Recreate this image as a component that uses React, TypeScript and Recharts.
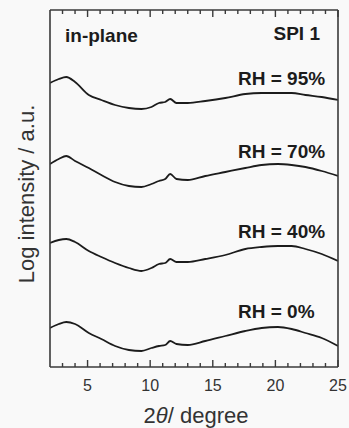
import React from "react";
import { LineChart, Line, XAxis, YAxis } from "recharts";

// 2θ positions (degree) shared by all four scans
const TWO_THETA = [2, 2.7, 3.3, 4, 5.1, 6.1, 7.2, 8.3, 9.3, 10.1, 10.7, 11.2, 11.6, 12.1, 13, 14.4, 16, 17.6, 18.9, 20.2, 21.3, 22.4, 23.7, 25];

// log intensity (a.u., already offset for stacking)
const RH95 = [28.4, 28.8, 29.0, 28.5, 27.2, 26.7, 26.2, 25.9, 25.8, 26.0, 26.4, 26.5, 26.8, 26.4, 26.4, 26.6, 26.9, 27.3, 27.4, 27.4, 27.4, 27.2, 27.0, 26.7];
const RH70 = [20.3, 20.8, 21.1, 20.6, 19.9, 19.2, 18.5, 18.1, 18.0, 18.3, 18.6, 18.8, 19.3, 18.8, 18.7, 19.1, 19.5, 19.9, 20.2, 20.3, 20.2, 20.0, 19.6, 19.1];
const RH40 = [12.4, 12.7, 12.8, 12.5, 11.6, 11.0, 10.4, 9.9, 9.6, 9.9, 10.3, 10.4, 10.8, 10.5, 10.5, 10.8, 11.2, 11.8, 12.0, 12.1, 12.1, 11.8, 11.3, 10.6];
const RH0 = [3.9, 4.3, 4.5, 4.3, 3.4, 2.8, 2.1, 1.7, 1.6, 1.9, 2.1, 2.2, 2.6, 2.3, 2.2, 2.6, 3.1, 3.6, 3.9, 4.0, 3.8, 3.4, 2.9, 2.1];

const MAJOR_TICKS = [5, 10, 15, 20, 25];
const ALL_TICKS = [3, 4, 5, 6, 7, 8, 9, 10, 11, 12, 13, 14, 15, 16, 17, 18, 19, 20, 21, 22, 23, 24, 25];

const X_DOMAIN = [2, 25];
const Y_DOMAIN = [0, 35.7];

const RH_LABELS = ["RH = 95%", "RH = 70%", "RH = 40%", "RH = 0%"];

const data = TWO_THETA.map((t, i) => ({
  t,
  rh95: RH95[i],
  rh70: RH70[i],
  rh40: RH40[i],
  rh0: RH0[i],
}));

const W = 349;
const H = 428;
const FONT = "Arial, Liberation Sans, Helvetica, sans-serif";
const FRAME = "#3a3a3a";
const INK = "#1c1c1c";

function BottomTick(props: any) {
  const { x, y, payload } = props;
  const major = MAJOR_TICKS.includes(payload.value);
  return (
    <g>
      <line x1={x} y1={y} x2={x} y2={y - (major ? 7 : 4)} stroke={FRAME} strokeWidth={1.4} />
      {major && (
        <text x={x} y={y + 24} textAnchor="middle" fontSize={16} fill="#333" fontFamily={FONT}>
          {payload.value}
        </text>
      )}
    </g>
  );
}

function TopTick(props: any) {
  const { x, y, payload } = props;
  const major = MAJOR_TICKS.includes(payload.value);
  return <line x1={x} y1={y} x2={x} y2={y + (major ? 7 : 4)} stroke={FRAME} strokeWidth={1.4} />;
}

const series = ["rh95", "rh70", "rh40", "rh0"];
const labelBaselines = [85, 158, 238, 318];

export default function App() {
  return (
    <div style={{ position: "absolute", left: 0, top: 0, width: W, height: H, background: "#f9f9f9" }}>
      <LineChart width={W} height={H} data={data} margin={{ top: 9, right: 0, left: 0, bottom: 0 }}>
        <XAxis
          dataKey="t"
          type="number"
          domain={X_DOMAIN}
          ticks={ALL_TICKS}
          interval={0}
          height={61}
          tickSize={0}
          tickMargin={0}
          tickLine={false}
          tick={<BottomTick />}
          axisLine={{ stroke: FRAME, strokeWidth: 1.6 }}
          allowDataOverflow
        />
        <XAxis
          xAxisId="top"
          orientation="top"
          dataKey="t"
          type="number"
          domain={X_DOMAIN}
          ticks={ALL_TICKS}
          interval={0}
          height={1}
          tickSize={0}
          tickMargin={0}
          tickLine={false}
          tick={<TopTick />}
          axisLine={{ stroke: FRAME, strokeWidth: 1.6 }}
          allowDataOverflow
        />
        <YAxis type="number" domain={Y_DOMAIN} width={50} tick={false} axisLine={{ stroke: FRAME, strokeWidth: 1.6 }} />
        <YAxis
          yAxisId="right"
          orientation="right"
          type="number"
          domain={Y_DOMAIN}
          width={11}
          tick={false}
          axisLine={{ stroke: FRAME, strokeWidth: 1.6 }}
        />
        {series.map((key) => (
          <Line
            key={key}
            type="monotone"
            dataKey={key}
            stroke={INK}
            strokeWidth={1.8}
            dot={false}
            isAnimationActive={false}
          />
        ))}
        <text x={65} y={42} fontSize={19} fontWeight="bold" fill={INK} fontFamily={FONT}>
          in-plane
        </text>
        <text x={320} y={40} fontSize={19} fontWeight="bold" fill={INK} textAnchor="end" fontFamily={FONT}>
          SPI 1
        </text>
        {RH_LABELS.map((label, i) => (
          <text key={label} x={238} y={labelBaselines[i]} fontSize={19} fontWeight="bold" fill={INK} fontFamily={FONT}>
            {label}
          </text>
        ))}
        <text x={196} y={423} fontSize={22} fill="#333" textAnchor="middle" fontFamily={FONT}>
          2<tspan fontStyle="italic">θ</tspan>/ degree
        </text>
        <text
          x={34}
          y={194}
          fontSize={22}
          fill="#333"
          textAnchor="middle"
          fontFamily={FONT}
          transform="rotate(-90, 34, 194)"
        >
          Log intensity / a.u.
        </text>
      </LineChart>
    </div>
  );
}
